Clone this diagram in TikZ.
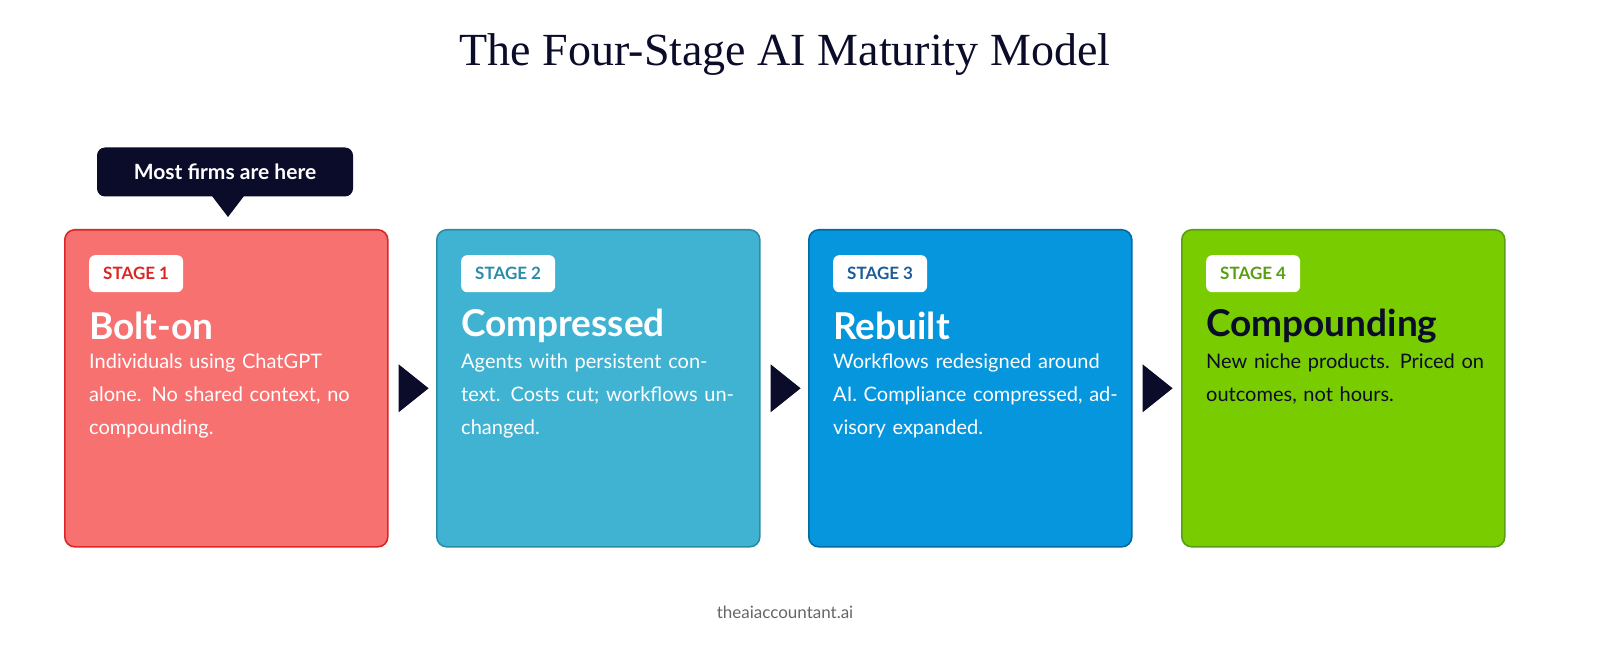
\documentclass[tikz,border=0pt]{standalone}
\usepackage{fontspec}
\setmainfont{Lato}
\newfontfamily\titlefont{Liberation Serif}
\usetikzlibrary{positioning,calc}
\definecolor{navy}{HTML}{0B0B2A}
\definecolor{redfill}{HTML}{F87171}
\definecolor{redline}{HTML}{DC2626}
\definecolor{tealfill}{HTML}{40B3D3}
\definecolor{tealline}{HTML}{2B8CA8}
\definecolor{bluefill}{HTML}{0596DE}
\definecolor{blueline}{HTML}{0369A1}
\definecolor{bluetext}{HTML}{1D5D99}
\definecolor{greenfill}{HTML}{79CC00}
\definecolor{greenline}{HTML}{5A9E12}
\definecolor{footgray}{HTML}{666666}
\begin{document}
\begin{tikzpicture}[
    x=1pt, y=-1pt,
    stagebox/.style={rectangle, rounded corners=10pt, line width=1.6pt, minimum width=323pt, minimum height=317pt, anchor=north west},
    badge/.style={rectangle, rounded corners=6pt, fill=white, minimum height=37pt, inner xsep=14pt, anchor=north west, font=\fontsize{17}{20}\selectfont\bfseries},
    heading/.style={anchor=west, inner sep=0pt, font=\fontsize{37}{40}\selectfont\bfseries},
    desc/.style={anchor=north west, inner sep=0pt, text width=290pt, align=left, font=\fontsize{20}{33}\selectfont},
    pointer/.style={fill=navy}
]
    \useasboundingbox (0,0) rectangle (1600,660);

    % Titel
    \node[font=\titlefont\fontsize{46}{50}\selectfont, text=navy] (title) at (785,55) {The Four-Stage AI Maturity Model};

    % Hinweis
    \node[fill=navy, rounded corners=8pt, minimum width=256pt, minimum height=49pt, text=white, font=\fontsize{21}{24}\selectfont\bfseries] (callout) at (225,172) {Most firms are here};
    \fill[navy] (212,196) -- (228,217) -- (244,196) -- cycle;

    % Stufen
    \node[stagebox, fill=redfill, draw=redline] (s1) at (64,229) {};
    \node[stagebox, fill=tealfill, draw=tealline] (s2) at (436,229) {};
    \node[stagebox, fill=bluefill, draw=blueline] (s3) at (808,229) {};
    \node[stagebox, fill=greenfill, draw=greenline] (s4) at (1181,229) {};

    % Etiketten
    \node[badge, text=redline] (b1) at (89,255) {STAGE 1};
    \node[badge, text=tealline] (b2) at (461,255) {STAGE 2};
    \node[badge, text=bluetext] (b3) at (833,255) {STAGE 3};
    \node[badge, text=greenline] (b4) at (1206,255) {STAGE 4};

    % Titel der Stufen
    \node[heading, text=white] (h1) at (89,326) {Bolt-on};
    \node[heading, text=white] (h2) at (461,326) {Compressed};
    \node[heading, text=white] (h3) at (833,326) {Rebuilt};
    \node[heading, text=navy] (h4) at (1206,326) {Compounding};

    % Beschreibungen
    \node[desc, text=white] (d1) at (89,354) {Individuals using ChatGPT alone. No shared context, no compounding.};
    \node[desc, text=white] (d2) at (461,354) {Agents with persistent context. Costs cut; workflows unchanged.};
    \node[desc, text=white] (d3) at (833,354) {Workflows redesigned around AI. Compliance compressed, advisory expanded.};
    \node[desc, text=navy] (d4) at (1206,354) {New niche products. Priced on outcomes, not hours.};

    % Pfeile
    \fill[pointer] ($(s1.east)+(10,-24)$) -- ($(s1.east)+(40,0)$) -- ($(s1.east)+(10,24)$) -- cycle;
    \fill[pointer] ($(s2.east)+(10,-24)$) -- ($(s2.east)+(40,0)$) -- ($(s2.east)+(10,24)$) -- cycle;
    \fill[pointer] ($(s3.east)+(10,-24)$) -- ($(s3.east)+(40,0)$) -- ($(s3.east)+(10,24)$) -- cycle;

    % Fusszeile
    \node[text=footgray, font=\fontsize{17}{20}\selectfont] (foot) at (785,612) {theaiaccountant.ai};
\end{tikzpicture}
\end{document}
